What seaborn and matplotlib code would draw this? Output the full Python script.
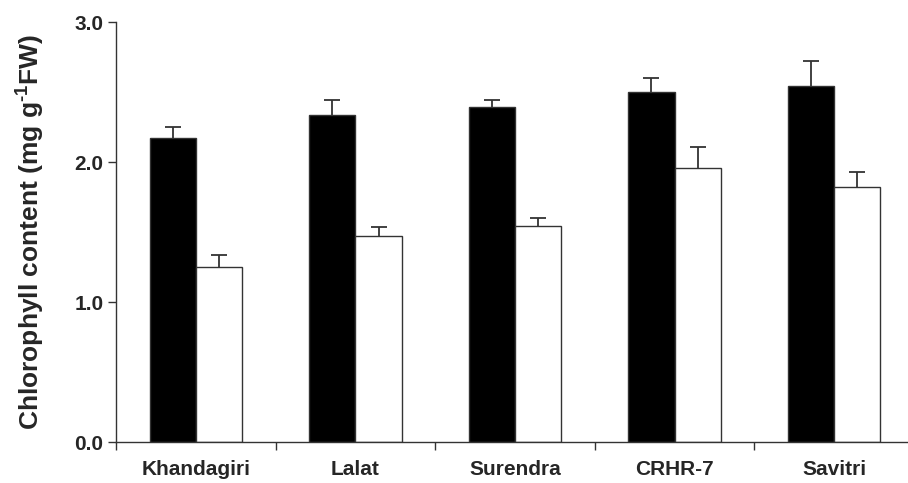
import matplotlib
matplotlib.use("Agg")
import matplotlib.pyplot as plt
from matplotlib.ticker import FixedLocator
import seaborn as sns
import pandas as pd
import numpy as np

cultivars = ["Khandagiri", "Lalat", "Surendra", "CRHR-7", "Savitri"]
control = [2.17, 2.335, 2.39, 2.50, 2.545]
control_err = [0.083, 0.107, 0.05, 0.10, 0.175]
treated = [1.25, 1.47, 1.543, 1.957, 1.82]
treated_err = [0.085, 0.065, 0.057, 0.15, 0.11]
groups = ["Control", "Treated"]
yticks = [0.0, 1.0, 2.0, 3.0]
ytick_labels = ["0.0", "1.0", "2.0", "3.0"]

sns.set_theme(style="ticks")
plt.rcParams["font.family"] = ["Liberation Sans", "DejaVu Sans"]
plt.rcParams["font.weight"] = "bold"
plt.rcParams["mathtext.fontset"] = "custom"
plt.rcParams["mathtext.rm"] = "Liberation Sans:bold"
plt.rcParams["mathtext.bf"] = "Liberation Sans:bold"
plt.rcParams["mathtext.default"] = "bf"

df = pd.DataFrame({
    "cultivar": cultivars * 2,
    "value": control + treated,
    "group": [groups[0]] * len(cultivars) + [groups[1]] * len(cultivars),
})

fig = plt.figure(figsize=(9.08, 4.83), dpi=100)
ax = fig.add_axes([116 / 908, 41 / 483, 798 / 908, 420 / 483])

sns.barplot(data=df, x="cultivar", y="value", hue="group", order=cultivars,
            hue_order=groups, palette=["black", "white"], saturation=1,
            width=0.58, edgecolor="#333333", linewidth=1.0, errorbar=None,
            legend=False, ax=ax)

ecol = "#333333"
for cont, vals, errs in zip(ax.containers, [control, treated], [control_err, treated_err]):
    xs = np.array([p.get_x() + p.get_width() / 2 for p in cont])
    vals = np.array(vals)
    tops = vals + np.array(errs)
    ax.vlines(xs, vals, tops, colors=ecol, linewidth=1.3, zorder=3)
    ax.plot(xs, tops, linestyle="none", marker="_", markersize=11,
            markeredgewidth=1.3, color=ecol, zorder=3)

ax.set_xlim(-0.5, 4.5)
ax.set_ylim(0, 3.0)
sns.despine(ax=ax)
for s in ["left", "bottom"]:
    ax.spines[s].set_color("#333333")
    ax.spines[s].set_linewidth(1.0)
    ax.spines[s].set_zorder(4)

ax.set_yticks(yticks)
ax.set_yticklabels(ytick_labels, fontsize=15, fontweight="bold")
ax.tick_params(axis="y", length=6, width=1, color="#333333", pad=3)

ax.set_xticks(range(len(cultivars)))
ax.set_xticklabels(cultivars, fontsize=15, fontweight="bold")
ax.tick_params(axis="x", which="major", length=0, pad=13)
ax.xaxis.set_minor_locator(FixedLocator(np.arange(-0.5, len(cultivars), 1.0)))
ax.tick_params(axis="x", which="minor", length=6, width=1, color="#333333")

ax.set_xlabel("")
ax.set_ylabel("Chlorophyll content (mg g$^{\\text{-1}}$FW)", fontsize=19,
              fontweight="bold", labelpad=20)

fig.savefig("out.png", dpi=100)
